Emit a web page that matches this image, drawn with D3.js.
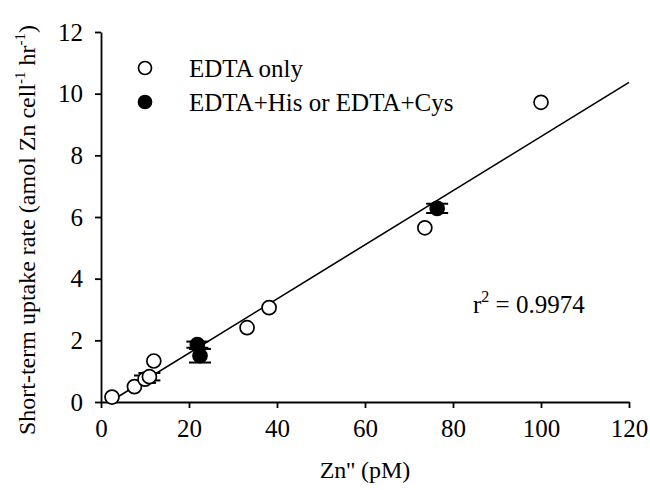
<!DOCTYPE html>
<html>
<head>
<meta charset="utf-8">
<script src="https://cdn.jsdelivr.net/npm/d3@7"></script>
<style>
  body { margin: 0; background: #fff; }
  text { font-family: "Liberation Serif", "Times New Roman", serif; fill: #000; }
</style>
</head>
<body>
<div id="chart"></div>
<script>
// EDTA only (open circles)
const openX = [2.5, 7.6, 10.0, 11.0, 12.0, 33.2, 38.2, 73.6, 100.0];
const openY = [0.16, 0.50, 0.74, 0.82, 1.33, 2.41, 3.06, 5.65, 9.72];
const openErr = [0, 0, 0.12, 0.12, 0, 0, 0, 0, 0];

// EDTA+His or EDTA+Cys (filled circles)
const fillX = [21.9, 22.5, 76.4];
const fillY = [1.86, 1.50, 6.28];
const fillErr = [0.10, 0.22, 0.15];

// regression line
const lineSlope = 0.0878;
const lineIntercept = -0.17;
const lineX = [1.94, 120];

const xTicks = [0, 20, 40, 60, 80, 100, 120];
const yTicks = [0, 2, 4, 6, 8, 10, 12];

const width = 650, height = 490;
const margin = { top: 32, right: 21, bottom: 88, left: 101 };

const svg = d3.select('#chart').append('svg')
  .attr('width', width)
  .attr('height', height);

const x = d3.scaleLinear().domain([0, 120]).range([margin.left, width - margin.right]);
const y = d3.scaleLinear().domain([0, 12]).range([height - margin.bottom, margin.top]);

// axes
const xAxis = svg.append('g')
  .attr('transform', `translate(0,${height - margin.bottom})`)
  .call(d3.axisBottom(x).tickValues(xTicks).tickSize(6).tickPadding(11).tickSizeOuter(0));
const yAxis = svg.append('g')
  .attr('transform', `translate(${margin.left},0)`)
  .call(d3.axisLeft(y).tickValues(yTicks).tickSize(6).tickPadding(12).tickSizeOuter(0));

[xAxis, yAxis].forEach(g => {
  g.select('.domain').attr('stroke', '#000').attr('stroke-width', 1.8);
  g.selectAll('.tick line').attr('stroke', '#000').attr('stroke-width', 1.8);
  g.selectAll('.tick text')
    .style('font-family', '"Liberation Serif", serif')
    .style('font-size', '25px')
    .attr('fill', '#000');
});

// regression line
svg.append('line')
  .attr('x1', x(lineX[0])).attr('y1', y(lineIntercept + lineSlope * lineX[0]))
  .attr('x2', x(lineX[1])).attr('y2', y(lineIntercept + lineSlope * lineX[1]))
  .attr('stroke', '#000')
  .attr('stroke-width', 1.6);

// points
const openData = openX.map((v, i) => ({ x: v, y: openY[i], e: openErr[i] }));
const fillData = fillX.map((v, i) => ({ x: v, y: fillY[i], e: fillErr[i] }));

function drawSeries(data, filled) {
  const g = svg.append('g');
  const withErr = data.filter(d => d.e > 0);
  const eb = g.selectAll('.err').data(withErr).enter().append('g').attr('class', 'err');
  eb.append('line')
    .attr('x1', d => x(d.x)).attr('x2', d => x(d.x))
    .attr('y1', d => y(d.y - d.e)).attr('y2', d => y(d.y + d.e))
    .attr('stroke', '#000').attr('stroke-width', 1.6);
  [-1, 1].forEach(s => {
    eb.append('line')
      .attr('x1', d => x(d.x) - 11).attr('x2', d => x(d.x) + 11)
      .attr('y1', d => y(d.y + s * d.e)).attr('y2', d => y(d.y + s * d.e))
      .attr('stroke', '#000').attr('stroke-width', 2);
  });
  g.selectAll('circle').data(data).enter().append('circle')
    .attr('cx', d => x(d.x))
    .attr('cy', d => y(d.y))
    .attr('r', 7)
    .attr('fill', filled ? '#000' : '#fff')
    .attr('stroke', '#000')
    .attr('stroke-width', 1.7);
}
drawSeries(openData, false);
drawSeries(fillData, true);

// legend
const legend = svg.append('g');
const legendItems = [
  { label: 'EDTA only', filled: false },
  { label: 'EDTA+His or EDTA+Cys', filled: true }
];
legendItems.forEach((d, i) => {
  legend.append('circle')
    .attr('cx', 145).attr('cy', 68 + i * 34).attr('r', 6.5)
    .attr('fill', d.filled ? '#000' : '#fff')
    .attr('stroke', '#000').attr('stroke-width', 1.7);
  legend.append('text')
    .attr('x', 189).attr('y', 77 + i * 34)
    .style('font-size', '25px')
    .text(d.label);
});

// r^2
const r2 = svg.append('text').attr('x', 473).attr('y', 313).style('font-size', '25px');
r2.append('tspan').text('r');
r2.append('tspan').attr('dy', -11).style('font-size', '16px').text('2');
r2.append('tspan').attr('dy', 11).text(' = 0.9974');

// axis titles
svg.append('text')
  .attr('x', (margin.left + width - margin.right) / 2)
  .attr('y', 478)
  .attr('text-anchor', 'middle')
  .style('font-size', '24px')
  .text("Zn'' (pM)");

const yt = svg.append('text')
  .attr('transform', `translate(35,230) rotate(-90)`)
  .attr('text-anchor', 'middle')
  .style('font-size', '24px');
yt.append('tspan').text('Short-term uptake rate (amol Zn cell');
yt.append('tspan').attr('dy', -10).style('font-size', '15px').text('-1');
yt.append('tspan').attr('dy', 10).text(' hr');
yt.append('tspan').attr('dy', -10).style('font-size', '15px').text('-1');
yt.append('tspan').attr('dy', 10).text(')');
</script>
</body>
</html>
